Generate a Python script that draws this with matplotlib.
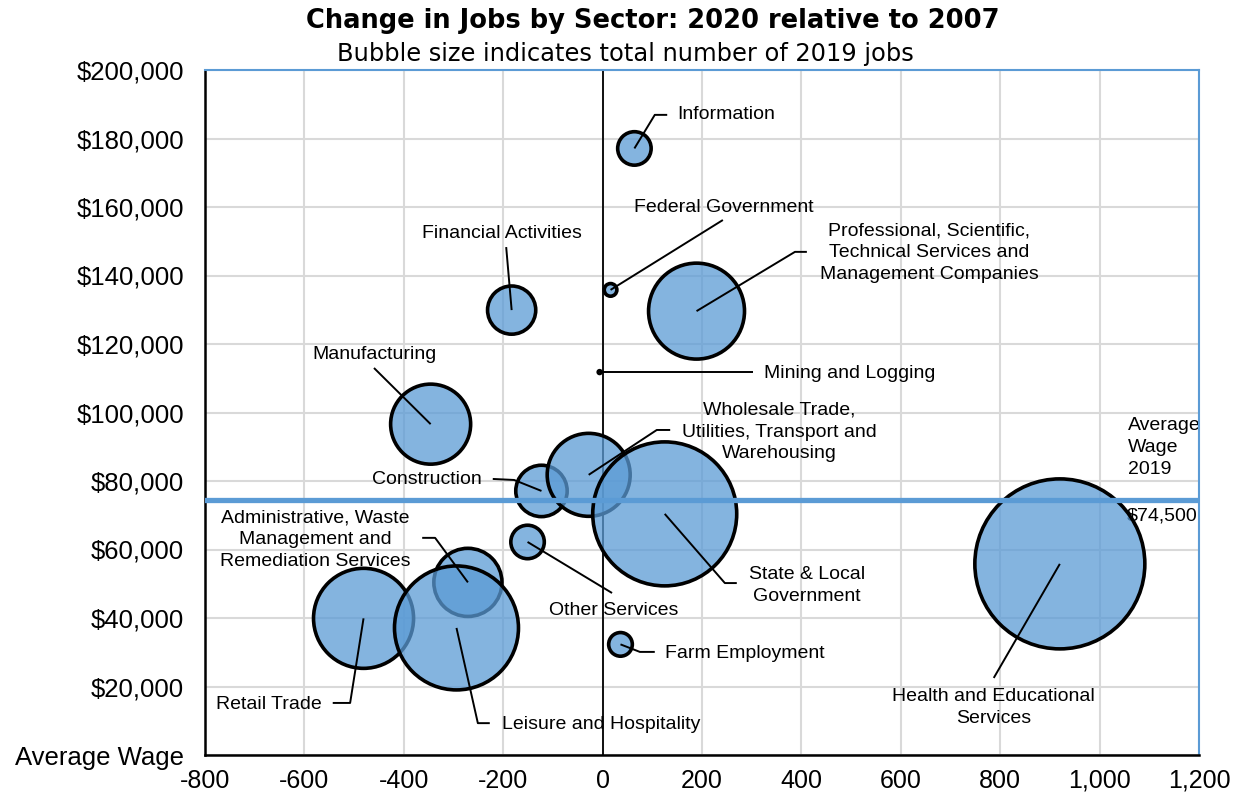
import numpy as np
import matplotlib
import matplotlib.pyplot as plt
from matplotlib.ticker import FixedLocator

matplotlib.use('Agg')
plt.rcParams['font.family'] = ['Liberation Sans', 'DejaVu Sans']

## bubble data (drawing order: later ones sit on top)
sectors = ["Mining and Logging", "Construction", "Manufacturing",
           "Wholesale Trade,\nUtilities, Transport and\nWarehousing",
           "Retail Trade", "Information", "Financial Activities",
           "Professional, Scientific,\nTechnical Services and\nManagement Companies",
           "Administrative, Waste\nManagement and\nRemediation Services",
           "Health and Educational\nServices", "Leisure and Hospitality",
           "Other Services", "Federal Government", "State & Local\nGovernment",
           "Farm Employment"]
job_change = [-6, -123, -346, -28, -481, 64, -183, 189, -271, 920, -294, -151, 16, 125, 36]
avg_wage = [111800, 77100, 96600, 81800, 39900, 177100, 129900, 129600, 50400,
            55800, 37100, 62200, 135800, 70400, 32300]
jobs_2019 = [0.1, 33, 80, 86, 125, 14, 29, 115, 58, 361, 192, 14, 2, 259, 7]  # thousands

avg_wage_2019 = 74500
xticks = [-800, -600, -400, -200, 0, 200, 400, 600, 800, 1000, 1200]
yticks = [0, 20000, 40000, 60000, 80000, 100000, 120000, 140000, 160000, 180000, 200000]
ytick_labels = ["Average Wage"] + ["${:,}".format(v) for v in yticks[1:]]

## label layout: (text x, text y, ha, leader path points after the bubble centre)
layout = {
    "Information": (150, 186900, 'left', [(105, 186900), (130, 186900)]),
    "Federal Government": (244, 160000, 'center', [(242, 156200)]),
    "Professional, Scientific,\nTechnical Services and\nManagement Companies":
        (657, 146600, 'center', [(387, 146900), (411, 146900)]),
    "Mining and Logging": (325, 111500, 'left', [(302, 111800)]),
    "Financial Activities": (-202, 152400, 'center', [(-194, 148300)]),
    "Manufacturing": (-458, 116800, 'center', [(-460, 113000)]),
    "Construction": (-243, 80300, 'right', [(-178, 80300), (-221, 80600)]),
    "Administrative, Waste\nManagement and\nRemediation Services":
        (-579, 62800, 'center', [(-337, 63400), (-363, 63400)]),
    "Retail Trade": (-565, 14800, 'right', [(-508, 15200), (-543, 15200)]),
    "Leisure and Hospitality": (-202, 9000, 'left', [(-251, 9300), (-227, 9300)]),
    "Other Services": (23, 42300, 'center', [(19, 47300)]),
    "Wholesale Trade,\nUtilities, Transport and\nWarehousing":
        (355, 94300, 'center', [(109, 94900), (136, 94900)]),
    "State & Local\nGovernment": (411, 49600, 'center', [(246, 50200), (270, 50200)]),
    "Farm Employment": (126, 29600, 'left', [(75, 30100), (105, 30100)]),
    "Health and Educational\nServices": (787, 14000, 'center', [(787, 22500)]),
}

fig = plt.figure(figsize=(12.34, 7.99), dpi=100)
ax = fig.add_axes([205/1234, 1-755/799, 994/1234, 685/799])
ax.set_xlim(-800, 1200)
ax.set_ylim(0, 200000)

ax.xaxis.set_major_locator(FixedLocator(xticks))
ax.yaxis.set_major_locator(FixedLocator(yticks))
ax.set_xticklabels(["{:,}".format(v) for v in xticks], fontsize=18)
ax.set_yticklabels(ytick_labels, fontsize=18.5)
ax.tick_params(axis='y', length=0, pad=15)
ax.tick_params(axis='x', length=0, pad=10)
ax.grid(True, color='#d9d9d9', lw=1.5, zorder=0)
ax.set_axisbelow(True)

for s in ['top', 'right']:
    ax.spines[s].set_color('#5b9bd5')
    ax.spines[s].set_linewidth(1.5)
for s in ['left', 'bottom']:
    ax.spines[s].set_color('black')
    ax.spines[s].set_linewidth(1.8)

ax.axvline(0, color='black', lw=1.3, zorder=2)

## bubble area proportional to jobs
sizes = np.array(jobs_2019) * 41.5
ax.scatter(job_change, avg_wage, s=sizes, facecolor=(0.357, 0.608, 0.835, 0.75),
           edgecolor='black', linewidth=2.6, zorder=3)

ax.axhline(avg_wage_2019, color='#5b9bd5', lw=3.8, zorder=4)
ax.text(1057, 89900, "Average\nWage\n2019", fontsize=14, ha='left', va='center',
        linespacing=1.38, zorder=2)
ax.text(1055, 69800, "${:,}".format(avg_wage_2019), fontsize=14, ha='left',
        va='center', zorder=2)

for name, x, y in zip(sectors, job_change, avg_wage):
    tx, ty, ha, pts = layout[name]
    px = [x] + [p[0] for p in pts]
    py = [y] + [p[1] for p in pts]
    ax.plot(px, py, color='black', lw=1.4, zorder=5, solid_capstyle='butt')
    ax.text(tx, ty, name, fontsize=14, ha=ha, va='center', multialignment='center',
            linespacing=1.38, zorder=5)

fig.text(0.529, 0.974, "Change in Jobs by Sector: 2020 relative to 2007", fontsize=18.5,
         fontweight='bold', family='DejaVu Sans', ha='center', va='center')
fig.text(0.507, 0.933, "Bubble size indicates total number of 2019 jobs", fontsize=17.4,
         family='DejaVu Sans', ha='center', va='center')

plt.savefig("out.png", dpi=100)
plt.close()
